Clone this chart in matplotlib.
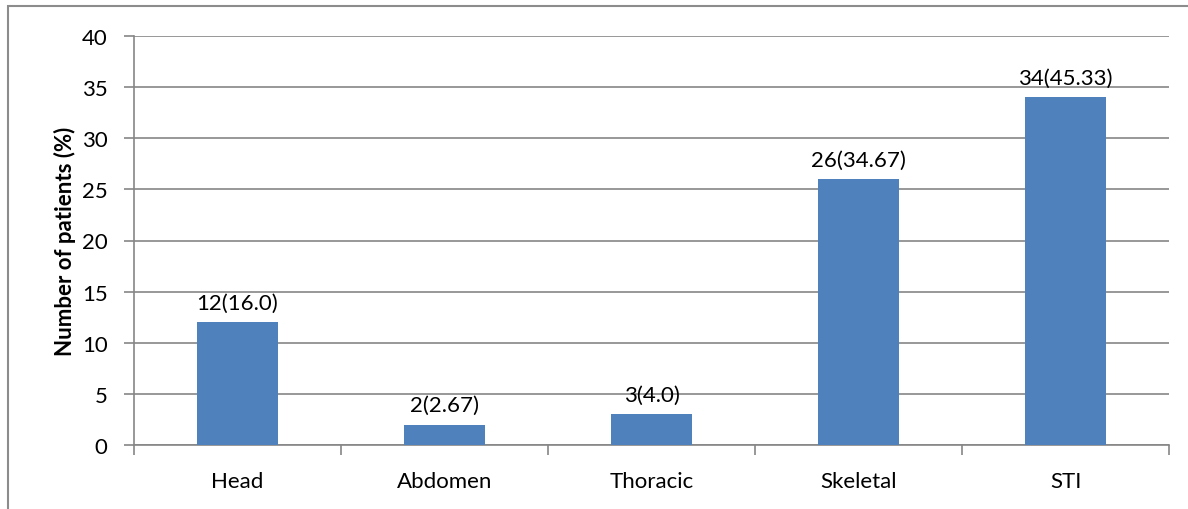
import matplotlib
matplotlib.use("Agg")
import matplotlib.pyplot as plt
from matplotlib.patches import Rectangle

categories = ["Head", "Abdomen", "Thoracic", "Skeletal", "STI"]
counts = [12, 2, 3, 26, 34]
percents = ["16.0", "2.67", "4.0", "34.67", "45.33"]
yticks = [0, 5, 10, 15, 20, 25, 30, 35, 40]

plt.rcParams['font.family'] = ['Lato', 'DejaVu Sans']
W, H = 1188, 510
fig = plt.figure(figsize=(W/100, H/100), dpi=100)
fig.patches.append(Rectangle((8/W, -0.1), 1.2, 1 - 7/H + 0.1, transform=fig.transFigure,
                             fill=False, edgecolor='#8c8c8c', linewidth=1.5))
ax = fig.add_axes([134/W, 1 - 446/H, (1169-134)/W, (446-37)/H])

gc = '#868686'
fs = 16
x = list(range(len(categories)))
ax.bar(x, counts, width=0.39, color='#4F81BD', zorder=3)
for xi, c, p in zip(x, counts, percents):
    ax.text(xi, c + 0.9, f"{c}({p})", ha='center', va='bottom', fontsize=fs, color='black')

ax.set_xlim(-0.5, len(categories) - 0.5)
ax.set_ylim(0, 40)
ax.set_yticks(yticks)
ax.yaxis.grid(True, color=gc, linewidth=1.2, zorder=0)
ax.set_xticks(x)
ax.set_xticklabels(categories, fontsize=fs)
ax.set_xticks([i - 0.5 for i in range(len(categories) + 1)], minor=True)
ax.tick_params(axis='x', which='major', length=0, pad=19)
ax.tick_params(axis='x', which='minor', length=7, width=1.2, color=gc, direction='out')
ax.tick_params(axis='y', length=7, width=1.2, color=gc, labelsize=fs, pad=12)
for s in ['top', 'right']:
    ax.spines[s].set_visible(False)
for s in ['left', 'bottom']:
    ax.spines[s].set_color(gc)
    ax.spines[s].set_linewidth(1.2)
ax.set_ylabel("Number of patients (%)", fontsize=fs, fontweight='bold', labelpad=4)

fig.savefig("out.png", dpi=100)
